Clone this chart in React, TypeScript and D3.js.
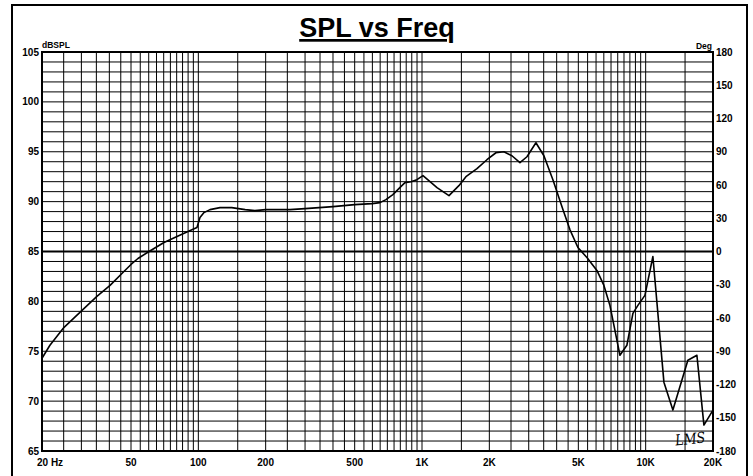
import React from 'react';
import * as d3 from 'd3';

// ---- Data ----
const freqHz = [
  20, 21.7, 25.1, 30.2, 35.2, 40.3, 46, 50, 53.7, 60.2, 70.2, 80.3, 89.9, 98.6,
  101.7, 106, 112.7, 125, 141, 162, 179, 200, 257, 300, 400, 500, 598, 649, 690,
  741, 796, 839, 892, 949, 1010, 1086, 1167, 1320, 1462, 1572, 1761, 1951, 2141,
  2324, 2524, 2741, 2946, 3231, 3508, 3848, 4266, 4584, 4978, 5460, 6054, 6506,
  6920, 7288, 7672, 8242, 8770, 9232, 9922, 10772, 12066, 13234, 15442, 16946,
  18214, 20000,
];
const splDb = [
  74.3, 75.6, 77.4, 79.1, 80.5, 81.6, 82.9, 83.7, 84.3, 85.0, 85.9, 86.5, 87.0, 87.4,
  88.4, 88.9, 89.2, 89.4, 89.4, 89.2, 89.1, 89.2, 89.2, 89.3, 89.5, 89.7, 89.8, 89.9, 90.2,
  90.7, 91.4, 91.9, 92.0, 92.2, 92.6, 92.0, 91.4, 90.6, 91.6, 92.5, 93.3, 94.2, 94.9,
  95.0, 94.6, 93.9, 94.5, 95.9, 94.6, 92.2, 89.2, 87.2, 85.4, 84.4, 83.1, 81.6,
  79.6, 77.1, 74.6, 75.6, 78.8, 79.6, 80.6, 84.5, 71.9, 69.1, 74.1, 74.6,
  67.6, 69.1,
];

const dbTicks = [105, 100, 95, 90, 85, 80, 75, 70, 65];
const degTicks = [180, 150, 120, 90, 60, 30, 0, -30, -60, -90, -120, -150, -180];
const freqTicks = [20, 50, 100, 200, 500, 1000, 2000, 5000, 10000, 20000];
const freqTickLabels = ['20 Hz', '50', '100', '200', '500', '1K', '2K', '5K', '10K', '20K'];

// grid steps per decade: [start, end, step]
const gridDecades = [
  [20, 100, 5],
  [100, 1000, 50],
  [1000, 10000, 500],
  [10000, 20000, 5000],
];

const W = 753;
const H = 476;
const PL = 42;
const PR = 713;
const PT = 52;
const PB = 451;
const FONT = '"Liberation Sans", Arial, sans-serif';

export default function App() {
  const x = d3.scaleLog().domain([20, 20000]).range([PL, PR]);
  const y = d3.scaleLinear().domain([65, 105]).range([PB, PT]);
  const yDeg = d3.scaleLinear().domain([-180, 180]).range([PB, PT]);

  const vGrid: number[] = [];
  gridDecades.forEach(([a, b, s]) => {
    for (let f = a + s; f < b + 0.001; f += s) {
      if (f < 20000) vGrid.push(f);
    }
  });
  const hGrid = d3.range(66, 105, 1);

  const line = d3
    .line<number>()
    .x((_, i) => x(freqHz[i]))
    .y((d) => y(d));

  return (
    <svg
      width={W}
      height={H}
      style={{ position: 'absolute', left: 0, top: 0, background: '#fff' }}
    >
      <rect x={0} y={0} width={W} height={H} fill="#fff" />
      {/* outer frame */}
      <rect x={12} y={5} width={735} height={480} fill="none" stroke="#000" strokeWidth={2} />

      {/* title */}
      <text
        x={377}
        y={37}
        textAnchor="middle"
        fontFamily={FONT}
        fontWeight="bold"
        fontSize={27}
        textDecoration="underline"
      >
        SPL vs Freq
      </text>

      {/* grid */}
      <g stroke="#000" strokeWidth={1}>
        {vGrid.map((f) => (
          <line key={'v' + f} x1={x(f)} x2={x(f)} y1={PT} y2={PB} />
        ))}
        {hGrid.map((d) => (
          <line key={'h' + d} x1={PL} x2={PR} y1={y(d)} y2={y(d)} />
        ))}
      </g>
      <line x1={PL} x2={PR} y1={yDeg(0)} y2={yDeg(0)} stroke="#000" strokeWidth={2} />
      <rect x={PL} y={PT} width={PR - PL} height={PB - PT} fill="none" stroke="#000" strokeWidth={2} />

      {/* curve */}
      <path d={line(splDb) || ''} fill="none" stroke="#000" strokeWidth={1.6} strokeLinejoin="round" />

      {/* axis labels */}
      <g fontFamily={FONT} fontWeight="bold" fontSize={10} fill="#000">
        <text x={PL} y={48} fontSize={8.5}>dBSPL</text>
        {dbTicks.map((d) => (
          <text key={'l' + d} x={39} y={y(d)} dy="0.35em" textAnchor="end">
            {d}
          </text>
        ))}
        <text x={712} y={49} fontSize={8.5} textAnchor="end">Deg</text>
        {degTicks.map((d) => (
          <text key={'r' + d} x={716} y={yDeg(d)} dy="0.35em">
            {d}
          </text>
        ))}
        {freqTicks.map((f, i) => (
          <text
            key={'b' + f}
            x={i === 0 ? x(f) - 5 : x(f)}
            y={466}
            textAnchor={i === 0 ? 'start' : 'middle'}
          >
            {freqTickLabels[i]}
          </text>
        ))}
      </g>

      {/* signature */}
      <text
        x={675}
        y={444}
        fontFamily='"DejaVu Serif", serif'
        fontStyle="italic"
        fontSize={15}
        textLength={30}
        lengthAdjust="spacingAndGlyphs"
        fill="#000"
        transform="rotate(-6 690 437)"
      >
        LMS
      </text>
    </svg>
  );
}
